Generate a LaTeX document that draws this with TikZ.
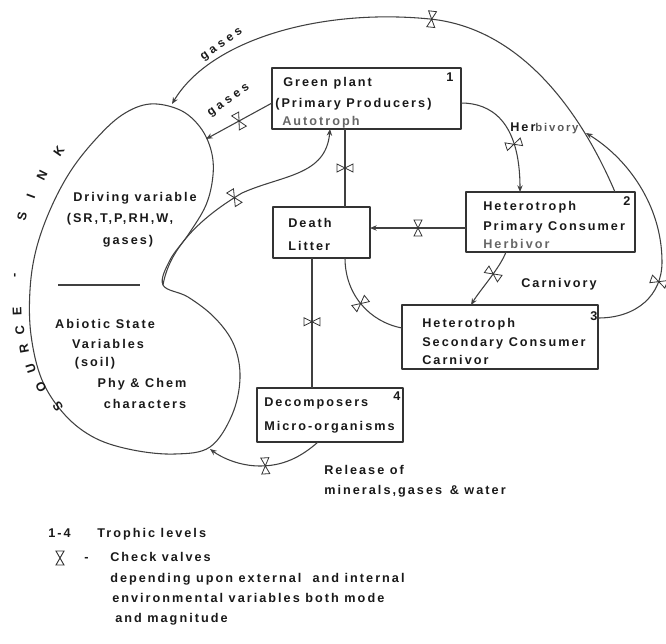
\documentclass[tikz,border=0pt]{standalone}
\usepackage{fontspec}
\usetikzlibrary{arrows.meta,decorations.markings}
\newfontfamily\lab{Liberation Sans}[LetterSpace=16]
\newfontfamily\labw{Liberation Sans}[LetterSpace=30]
\begin{document}
\begin{tikzpicture}[x=0.75pt,y=-0.75pt, line join=round,
  ln/.style={draw=black!75, line width=0.8pt},
  arr/.style={ln, -{Stealth[length=5pt,width=4pt]}},
  box/.style={draw=black!80, line width=0.9pt, rectangle, inner sep=0pt, outer sep=0pt},
  txt/.style={font=\lab\bfseries\fontsize{9.5}{11}\selectfont, inner sep=0pt, anchor=base west, text=black!90},
  ctxt/.style={txt, anchor=base},
  gtxt/.style={txt, text=black!60},
  sl/.style={font=\lab\bfseries\fontsize{9.5}{11}\selectfont, inner sep=0pt, text=black!90},
  rl/.style={font=\labw\bfseries\fontsize{9}{11}\selectfont, inner sep=0pt, text=black!90},
  valve/.style={postaction={decorate, decoration={markings, mark=at position #1 with {\draw[black!80, line width=0.6pt, -, line join=miter] (-3pt,-6pt) -- (3pt,-6pt) -- (-3pt,6pt) -- (3pt,6pt) -- cycle;}}}}
]
\useasboundingbox (0,0) rectangle (666,643);

% blob (abiotic compartment)
\draw[ln] plot[smooth cycle, tension=0.6] coordinates {(150,104) (180,110) (200,127) (211,150) (213,175) (206,205) (188,235) (170,260) (163,285) (188,297) (215,318) (234,345) (240,378) (232,415) (210,447) (175,454) (133,450) (95,438) (65,415) (42,380) (31,335) (30,290) (36,250) (50,210) (70,172) (95,140) (122,115)};
\draw[ln] (58,285) -- (140,285);

% boxes
\node[box, minimum width=141.75pt, minimum height=45.75pt] (gp) at (366.5,98.5) {};
\node[box, minimum width=72.75pt, minimum height=38.25pt] (dl) at (321.5,232.5) {};
\node[box, minimum width=126.75pt, minimum height=45pt] (h2) at (550.5,222) {};
\node[box, minimum width=147pt, minimum height=48pt] (h3) at (500,337) {};
\node[box, minimum width=109.5pt, minimum height=40.5pt] (dc) at (330,415) {};

% box texts
\node[txt] (t1a) at (283,86) {Green plant};
\node[txt] (t1b) at (275,107) {(Primary Producers)};
\node[gtxt] (t1c) at (282,125) {Autotroph};
\node[txt] (n1) at (446,81) {1};
\node[txt] (tda) at (288,227) {Death};
\node[txt] (tdb) at (288,250) {Litter};
\node[txt] (t2a) at (483,210) {Heterotroph};
\node[txt] (t2b) at (483,230) {Primary Consumer};
\node[gtxt] (t2c) at (483,248) {Herbivor};
\node[txt] (n2) at (623,205) {2};
\node[txt] (t3a) at (422,327) {Heterotroph};
\node[txt] (t3b) at (422,346) {Secondary Consumer};
\node[txt] (t3c) at (422,364) {Carnivor};
\node[txt] (n3) at (590,320) {3};
\node[txt] (t4a) at (264,406) {Decomposers};
\node[txt] (t4b) at (264,430) {Micro-organisms};
\node[txt] (n4) at (393,400) {4};

% blob texts
\node[ctxt] (b1) at (135,201) {Driving variable};
\node[ctxt] (b2) at (120,222) {(SR,T,P,RH,W,};
\node[ctxt] (b3) at (128,244) {gases)};
\node[ctxt] (b4) at (105,328) {Abiotic State};
\node[ctxt] (b5) at (108,348) {Variables};
\node[ctxt] (b6) at (95,366) {(soil)};
\node[ctxt] (b7) at (142,387) {Phy \& Chem};
\node[ctxt] (b8) at (145,408) {characters};

% SOURCE - SINK
\node[sl, rotate=125] (s1) at (58,407) {S};
\node[sl, rotate=117] (s2) at (41,387) {O};
\node[sl, rotate=108] (s3) at (31,368) {U};
\node[sl, rotate=100] (s4) at (24,349) {R};
\node[sl, rotate=95] (s5) at (20,330) {C};
\node[sl, rotate=92] (s6) at (17,311) {E};
\node[sl, rotate=90] (s7) at (16,275) {-};
\node[sl, rotate=77] (s8) at (22,216) {S};
\node[sl, rotate=70] (s9) at (31,196) {I};
\node[sl, rotate=63] (s10) at (42,175) {N};
\node[sl, rotate=55] (s11) at (59,151) {K};

% connector labels
\node[rl, rotate=35] (lg1) at (222,45) {gases};
\node[rl, rotate=35] (lg2) at (229,101) {gases};
\node[txt] (lh) at (510,131) {Her\textcolor{black!65}{\fontsize{8.5}{10}\selectfont bivory}};
\node[txt] (lc) at (521,287) {Carnivory};
\node[txt] (lr1) at (324,474) {Release of};
\node[txt] (lr2) at (324,494) {minerals,gases \,\& water};

% named free ends on the blob
\coordinate (bt) at (172,104);
\coordinate (bg) at (206,139);
\coordinate (bi) at (163,285);
\coordinate (bb) at (210,449);
\coordinate (jn) at (586,133);

% connectors
\draw[ln, valve=0.5] ([xshift=-16.125pt]gp.south) -- ([xshift=17.625pt]dl.north);
\draw[ln, valve=0.49] ([xshift=-7.125pt]dl.south) -- ([xshift=-13.5pt]dc.north);
\draw[arr, valve=0.5] ([yshift=-4.5pt]h2.west) coordinate (h2w) -- (dl.east |- h2w);
\draw[arr, valve=0.6] ([yshift=-3.375pt]gp.east) .. controls (490,103) and (520,120) .. ([xshift=-22.875pt]h2.north);
\draw[arr, valve=0.4] ([xshift=-33.375pt]h2.south) .. controls (500,268) and (480,290) .. ([xshift=-21.75pt]h3.north);
\draw[ln, valve=0.5] ([xshift=17.625pt]dl.south) .. controls (345,295) and (370,322) .. ([yshift=6.75pt]h3.west);
\draw[arr, valve=0.3] ([yshift=14.25pt]h3.east) .. controls (637,318) and (662,295) .. (662,262) .. controls (662,205) and (627,158) .. (jn);
\draw[arr, valve=0.48] ([xshift=48.375pt]h2.north) .. controls (580,110) and (520,28) .. (430,19) .. controls (320,8) and (210,40) .. (bt);
\draw[arr, valve=0.48] (bi) .. controls (170,245) and (205,215) .. (242,193) .. controls (282,175) and (326,176) .. ([xshift=-27.375pt]gp.south);
\draw[arr, valve=0.5] ([xshift=-9pt]dc.south) .. controls (300,458) and (282,466) .. (260,466) .. controls (240,466) and (222,458) .. (bb);
\draw[arr, valve=0.5] ([yshift=-3.375pt]gp.west) -- (bg);

% legend
\node[txt] (l1) at (48,537) {1-4};
\node[txt] (l2) at (97,537) {Trophic levels};
\draw[black!80, line width=0.7pt, line join=miter] (56,551) -- (64,551) -- (56,565) -- (64,565) -- cycle;
\node[txt] (l3) at (84,561) {-};
\node[txt] (l4) at (110,561) {Check valves};
\node[txt] (l5) at (110,582) {depending upon external \ and internal};
\node[txt] (l6) at (112,602) {environmental variables both mode};
\node[txt] (l7) at (115,622) {and magnitude};
\end{tikzpicture}
\end{document}
